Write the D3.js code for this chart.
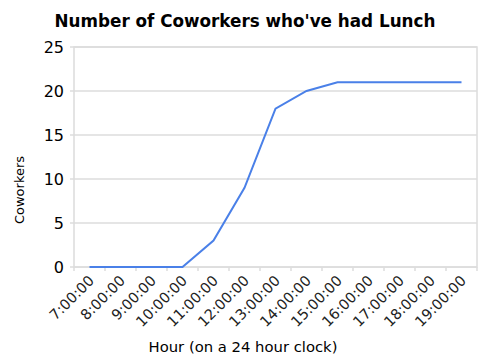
<!DOCTYPE html>
<html><head><meta charset="utf-8">
<script src="https://cdn.jsdelivr.net/npm/d3@7"></script>
<style>body{margin:0;background:#fff}svg{display:block}</style>
</head><body>
<script>
const categories = ["7:00:00","8:00:00","9:00:00","10:00:00","11:00:00","12:00:00","13:00:00","14:00:00","15:00:00","16:00:00","17:00:00","18:00:00","19:00:00"];
const values = [0,0,0,0,3,9,18,20,21,21,21,21,21];
const yTicks = [0,5,10,15,20,25];
const title = "Number of Coworkers who've had Lunch";
const xTitle = "Hour (on a 24 hour clock)";
const yTitle = "Coworkers";

const W = 488, H = 364;
const pL = 74, pR = 477, pT = 47, pB = 267;
const svg = d3.select("body").append("svg").attr("width", W).attr("height", H);
svg.append("rect").attr("width", W).attr("height", H).attr("fill", "#fff");

const x = d3.scaleBand().domain(categories).range([pL, pR]);
const y = d3.scaleLinear().domain([0, 25]).range([pB, pT]);

// gridlines
svg.append("g").selectAll("line").data(yTicks).join("line")
  .attr("x1", pL - 4).attr("x2", pR)
  .attr("y1", d => y(d)).attr("y2", d => y(d))
  .attr("stroke", "#dcdcdc").attr("stroke-width", 1.5);
// frame
svg.append("rect").attr("x", pL).attr("y", pT).attr("width", pR - pL).attr("height", pB - pT)
  .attr("fill", "none").attr("stroke", "#dcdcdc").attr("stroke-width", 1.5);

// x tick marks at band boundaries
const bounds = categories.map(c => x(c)).concat([pR]);
svg.append("g").selectAll("line").data(bounds).join("line")
  .attr("x1", d => d).attr("x2", d => d).attr("y1", pB).attr("y2", pB + 4)
  .attr("stroke", "#dcdcdc").attr("stroke-width", 1.5);

// y labels
svg.append("g").selectAll("text").data(yTicks).join("text")
  .attr("x", 64).attr("y", d => y(d)).attr("dy", "0.36em")
  .attr("text-anchor", "end").attr("font-family", "DejaVu Sans").attr("font-size", 16)
  .attr("fill", "#000").text(d => d);

// x labels
svg.append("g").selectAll("text").data(categories).join("text")
  .attr("transform", d => `translate(${x(d) + x.bandwidth()/2 + 2},${pB + 11}) rotate(-45)`)
  .attr("text-anchor", "end").attr("dy", "0.35em")
  .attr("font-family", "DejaVu Sans").attr("font-size", 14.5).attr("fill", "#222")
  .text(d => d);

// line
const line = d3.line().x((d, i) => x(categories[i]) + x.bandwidth()/2).y(d => y(d));
svg.append("path").datum(values).attr("d", line)
  .attr("fill", "none").attr("stroke", "#4a80e8").attr("stroke-width", 2);

// titles
svg.append("text").attr("x", 245).attr("y", 27).attr("text-anchor", "middle")
  .attr("font-family", "DejaVu Sans").attr("font-weight", "bold").attr("font-size", 16.8).text(title);
svg.append("text").attr("x", 243).attr("y", 352).attr("text-anchor", "middle")
  .attr("font-family", "DejaVu Sans").attr("font-size", 14.8).text(xTitle);
svg.append("text").attr("transform", "translate(24,190) rotate(-90)").attr("text-anchor", "middle")
  .attr("font-family", "DejaVu Sans").attr("font-size", 13).text(yTitle);
</script>
</body></html>
